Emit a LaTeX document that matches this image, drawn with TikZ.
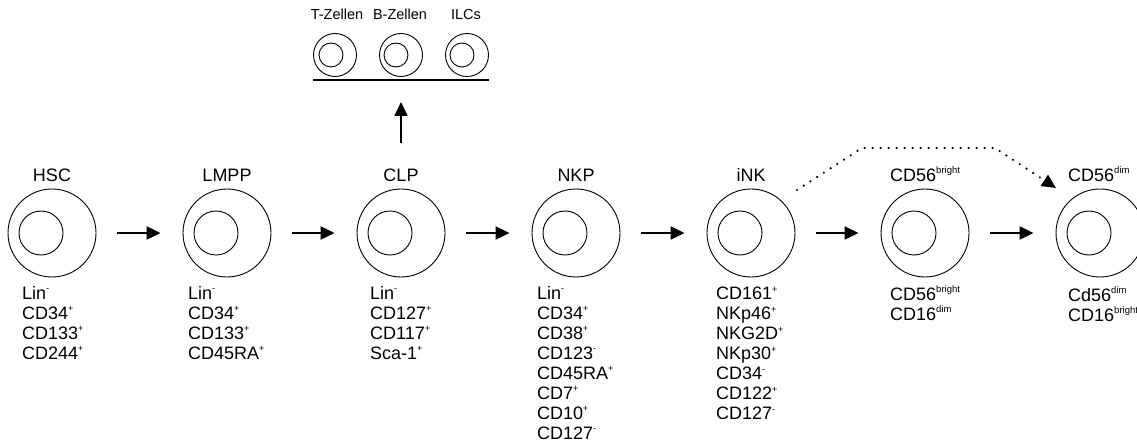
\documentclass[tikz,border=0pt]{standalone}
\usepackage{fontspec}
\setmainfont{Liberation Sans}
\usetikzlibrary{arrows.meta}
\newcommand{\lbfont}{\fontsize{18}{20}\selectfont}
\newcommand{\smfont}{\fontsize{14.5}{16}\selectfont}
\newcommand{\up}[1]{\smash{\raisebox{7.5pt}{\fontsize{9}{9}\selectfont #1}}}
\newcommand{\upw}[1]{\smash{\raisebox{8pt}{\fontsize{9.5}{9.5}\selectfont #1}}}
\tikzset{
 outer/.style={circle, draw, line width=0.9pt, minimum size=88pt, inner sep=0pt},
 innerc/.style={circle, draw, line width=0.9pt, minimum size=44pt, inner sep=0pt},
 souter/.style={circle, draw, line width=0.9pt, minimum size=43pt, inner sep=0pt},
 sinner/.style={circle, draw, line width=0.9pt, minimum size=24pt, inner sep=0pt},
 lbl/.style={font=\lbfont, anchor=base, inner sep=0pt},
 lblw/.style={font=\lbfont, anchor=base west, inner sep=0pt},
 slbl/.style={font=\smfont, anchor=base, inner sep=0pt},
 lst/.style={font=\lbfont, align=left, anchor=north west, inner sep=0pt},
 arr/.style={line width=2.2pt, -{Triangle[length=14pt,width=13pt]}},
 dotarr/.style={line width=2.4pt, line cap=round, dash pattern=on 0pt off 8pt, -{Triangle[length=14pt,width=13pt]}},
}
\begin{document}
\begin{tikzpicture}[x=1pt,y=-1pt]
\useasboundingbox (0,0) rectangle (1137,446);
% main cells
\node[outer] (HSC) at (52,233) {};
\node[innerc] (HSCi) at (41,233) {};
\node[outer] (LMPP) at (227,233) {};
\node[innerc] (LMPPi) at (216,233) {};
\node[outer] (CLP) at (401,233) {};
\node[innerc] (CLPi) at (390,233) {};
\node[outer] (NKP) at (576,233) {};
\node[innerc] (NKPi) at (565,233) {};
\node[outer] (iNK) at (751,233) {};
\node[innerc] (iNKi) at (740,233) {};
\node[outer] (CDb) at (925,233) {};
\node[innerc] (CDbi) at (914,233) {};
\node[outer] (CDd) at (1100,233) {};
\node[innerc] (CDdi) at (1089,233) {};
% labels above
\node[lbl] (lHSC) at (52,182) {HSC};
\node[lbl] (lLMPP) at (227,182) {LMPP};
\node[lbl] (lCLP) at (401,182) {CLP};
\node[lbl] (lNKP) at (576,182) {NKP};
\node[lbl] (liNK) at (751,182) {iNK};
\node[lblw] (lCDb) at (890,182) {CD56\upw{bright}};
\node[lblw] (lCDd) at (1068,182) {CD56\upw{dim}};
% lists
\node[lst] (mHSC) at (22,286) {Lin\up{-}\\CD34\up{+}\\CD133\up{+}\\CD244\up{+}};
\node[lst] (mLMPP) at (188,286) {Lin\up{-}\\CD34\up{+}\\CD133\up{+}\\CD45RA\up{+}};
\node[lst] (mCLP) at (370,286) {Lin\up{-}\\CD127\up{+}\\CD117\up{+}\\Sca-1\up{+}};
\node[lst] (mNKP) at (537,286) {Lin\up{-}\\CD34\up{+}\\CD38\up{+}\\CD123\up{-}\\CD45RA\up{+}\\CD7\up{+}\\CD10\up{+}\\CD127\up{-}};
\node[lst] (miNK) at (716,287) {CD161\up{+}\\NKp46\up{+}\\NKG2D\up{+}\\NKp30\up{+}\\CD34\up{-}\\CD122\up{+}\\CD127\up{-}};
\node[lst] (mCDb) at (890,288) {CD56\upw{bright}\\CD16\upw{dim}};
\node[lst] (mCDd) at (1068,288) {Cd56\upw{dim}\\CD16\upw{bright}};
% horizontal arrows
\draw[arr, shorten <=21pt, shorten >=22pt] (HSC.east) -- (LMPP.west);
\draw[arr, shorten <=21pt, shorten >=22pt] (LMPP.east) -- (CLP.west);
\draw[arr, shorten <=21pt, shorten >=22pt] (CLP.east) -- (NKP.west);
\draw[arr, shorten <=21pt, shorten >=22pt] (NKP.east) -- (iNK.west);
\draw[arr, shorten <=21pt, shorten >=22pt] (iNK.east) -- (CDb.west);
\draw[arr, shorten <=21pt, shorten >=22pt] (CDb.east) -- (CDd.west);
% top group
\node[slbl] (lT) at (337,20) {T-Zellen};
\node[slbl] (lB) at (400,20) {B-Zellen};
\node[slbl] (lI) at (466,20) {ILCs};
\node[souter] (T) at (335,55) {};
\node[sinner] (Ti) at (331,55) {};
\node[souter] (B) at (401,55) {};
\node[sinner] (Bi) at (396,55) {};
\node[souter] (I) at (467,55) {};
\node[sinner] (Ii) at (462,55) {};
\coordinate (bl) at (313,80);
\coordinate (br) at (489,80);
\coordinate (bm) at (401,80);
\draw[line width=2pt] (bl) -- (br);
\draw[arr, shorten <=46pt, shorten >=22pt] (CLP.north) -- (bm);
% dotted arrow
\coordinate (d1) at (797,190);
\coordinate (d2) at (862,148);
\coordinate (d3) at (995,148);
\coordinate (d4) at (1056,188);
\draw[dotarr] (d1) -- (d2) -- (d3) -- (d4);
\end{tikzpicture}
\end{document}
